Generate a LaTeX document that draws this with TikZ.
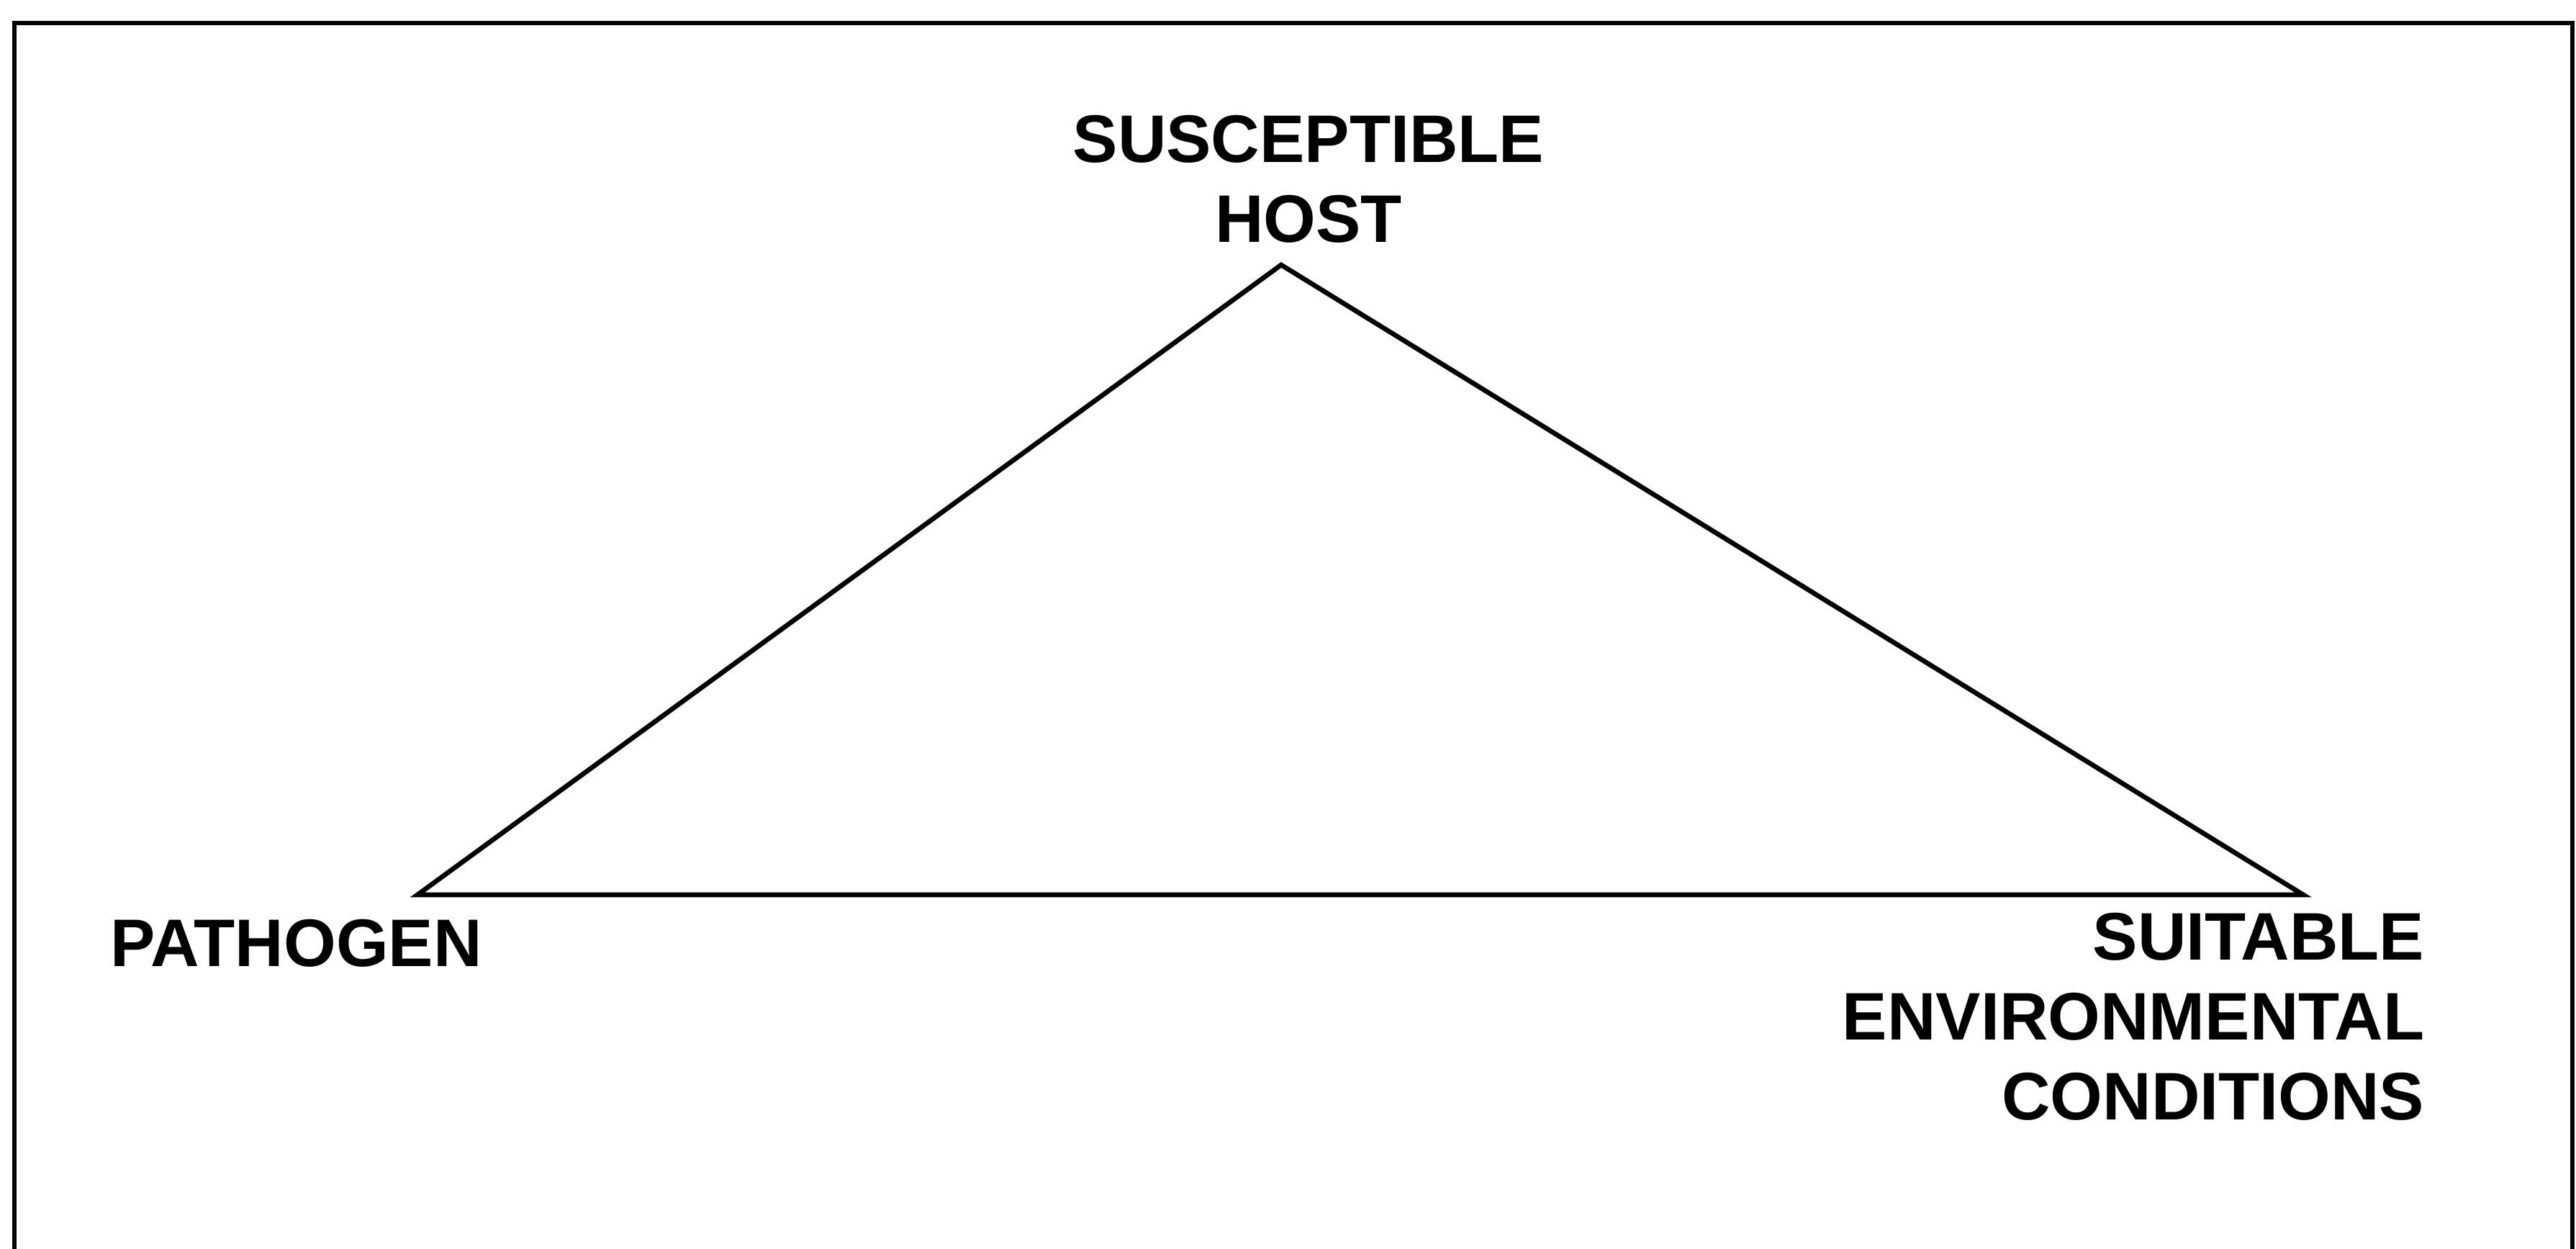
\documentclass[tikz,border=0pt]{standalone}
\usepackage{fontspec}
\setmainfont{Liberation Sans}
\usepackage{tikz}

\begin{document}
\begin{tikzpicture}[x=1cm, y=1cm,
    cornertext/.style={font=\bfseries\fontsize{26.6}{31.6}\selectfont, inner sep=0pt},
    frameline/.style={line width=1.7pt},
    triline/.style={line width=1.9pt, line join=miter}]
  \useasboundingbox (0,0) rectangle (35.79,17.35);

  % Frame, open at the bottom
  \draw[frameline] (0.20,0) -- (0.20,17.03) -- (35.74,17.03) -- (35.74,0);

  % Triangle
  \coordinate (hostpt) at (17.80,13.67);
  \coordinate (pathpt) at (5.80,4.92);
  \coordinate (envpt) at (32.00,4.92);
  \draw[triline] (hostpt) -- (pathpt) -- (envpt) -- cycle;

  % Corner labels
  \node[cornertext, align=center, anchor=south] (host) at (18.18,13.97) {SUSCEPTIBLE\\HOST};
  \node[cornertext, anchor=base west] (pathogen) at (1.53,3.92) {PATHOGEN};
  \node[cornertext, align=right, anchor=south east] (env) at (33.69,1.78)
    {SUITABLE\\ENVIRONMENTAL\\CONDITIONS};
\end{tikzpicture}
\end{document}
